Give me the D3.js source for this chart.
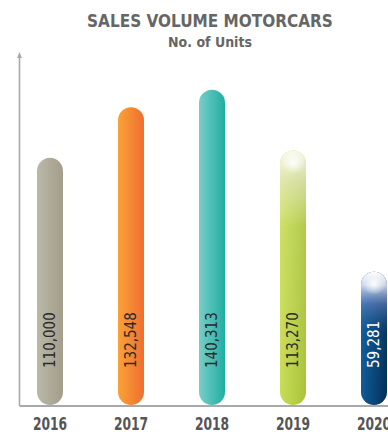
<!DOCTYPE html>
<html>
<head>
<meta charset="utf-8">
<script src="https://cdn.jsdelivr.net/npm/d3@7"></script>
<style>
  html, body { margin: 0; padding: 0; background: #fff; }
  svg { display: block; }
  text { font-family: "Liberation Sans Narrow", "DejaVu Sans Condensed", "Roboto Condensed", sans-serif; }
</style>
</head>
<body>
<svg id="chart" width="388" height="434"></svg>
<script>
// Sales volume of motorcars, number of units per year
const years = ["2016", "2017", "2018", "2019", "2020"];
const units = [110000, 132548, 140313, 113270, 59281];
const labels = ["110,000", "132,548", "140,313", "113,270", "59,281"];

// Bar colour ramps (left edge, right edge) and label colours
const leftColors  = ["#bcb8a8", "#f9a236", "#78cec7", "#c9dd55", "#0f5c9a"];
const rightColors = ["#a39e8a", "#f06e30", "#1faea3", "#a9c23a", "#022e55"];
const labelColors = ["#2b2b2b", "#2b2b2b", "#2b2b2b", "#2b2b2b", "#ffffff"];
const glow = [false, false, false, true, true];

const svg = d3.select("#chart");
const W = 388, baseY = 405, axisX = 19.5;

const x = d3.scalePoint().domain(years).range([50, 374]);
const y = d3.scaleLinear().domain([0, 150000]).range([baseY, 68]);
const barW = 26;

const defs = svg.append("defs");
years.forEach((yr, i) => {
  const g = defs.append("linearGradient").attr("id", "g" + i)
    .attr("x1", "0").attr("x2", "1").attr("y1", "0").attr("y2", "0");
  g.append("stop").attr("offset", "0%").attr("stop-color", leftColors[i]);
  g.append("stop").attr("offset", "100%").attr("stop-color", rightColors[i]);
  // vertical shading for the glossy bars
  const v = defs.append("linearGradient").attr("id", "v" + i)
    .attr("x1", "0").attr("x2", "0").attr("y1", "0").attr("y2", "1");
  if (i === 3) {
    v.append("stop").attr("offset", "0%").attr("stop-color", "#ffffff").attr("stop-opacity", 0.9);
    v.append("stop").attr("offset", "12%").attr("stop-color", "#f4f0f0").attr("stop-opacity", 0.55);
    v.append("stop").attr("offset", "30%").attr("stop-color", "#ffffff").attr("stop-opacity", 0.1);
    v.append("stop").attr("offset", "100%").attr("stop-color", "#ffffff").attr("stop-opacity", 0);
  } else if (i === 4) {
    v.append("stop").attr("offset", "0%").attr("stop-color", "#ffffff").attr("stop-opacity", 1);
    v.append("stop").attr("offset", "10%").attr("stop-color", "#e8ecfa").attr("stop-opacity", 0.85);
    v.append("stop").attr("offset", "24%").attr("stop-color", "#7a90d0").attr("stop-opacity", 0.55);
    v.append("stop").attr("offset", "45%").attr("stop-color", "#2a6aa8").attr("stop-opacity", 0.15);
    v.append("stop").attr("offset", "100%").attr("stop-color", "#2a6aa8").attr("stop-opacity", 0);
  }
  const r = defs.append("radialGradient").attr("id", "r" + i)
    .attr("cx", "50%").attr("cy", "50%").attr("r", "50%");
  r.append("stop").attr("offset", "0%").attr("stop-color", "#ffffff").attr("stop-opacity", 0.95);
  r.append("stop").attr("offset", "100%").attr("stop-color", "#ffffff").attr("stop-opacity", 0);
});

// Title
svg.append("text").attr("x", 210).attr("y", 27).attr("text-anchor", "middle")
  .attr("font-size", 17).attr("font-weight", "bold").attr("fill", "#666666")
  .text("SALES VOLUME MOTORCARS");
svg.append("text").attr("x", 210).attr("y", 47).attr("text-anchor", "middle")
  .attr("font-size", 14).attr("font-weight", "bold").attr("fill", "#666666")
  .text("No. of Units");

// Axes: vertical arrow and baseline
svg.append("line").attr("x1", axisX).attr("x2", axisX).attr("y1", 55).attr("y2", baseY + 1)
  .attr("stroke", "#a9a9ad").attr("stroke-width", 1.6);
svg.append("path").attr("d", `M${axisX - 2.5},58 L${axisX},52 L${axisX + 2.5},58 Z`).attr("fill", "#a9a9ad");
svg.append("line").attr("x1", axisX).attr("x2", W).attr("y1", baseY + 1).attr("y2", baseY + 1)
  .attr("stroke", "#a9a9ad").attr("stroke-width", 2);

// Bars
const bars = svg.selectAll("g.bar").data(years).join("g").attr("class", "bar");
bars.append("rect")
  .attr("x", (d) => x(d) - barW / 2)
  .attr("y", (d, i) => y(units[i]))
  .attr("width", barW)
  .attr("height", (d, i) => baseY - y(units[i]))
  .attr("rx", barW / 2).attr("ry", barW / 2)
  .attr("fill", (d, i) => `url(#g${i})`);
bars.filter((d, i) => glow[i]).append("rect")
  .attr("x", (d) => x(d) - barW / 2)
  .attr("y", (d) => y(units[years.indexOf(d)]))
  .attr("width", barW)
  .attr("height", (d) => baseY - y(units[years.indexOf(d)]))
  .attr("rx", barW / 2).attr("ry", barW / 2)
  .attr("fill", (d) => `url(#v${years.indexOf(d)})`);
bars.filter((d, i) => glow[i]).append("ellipse")
  .attr("cx", (d) => x(d))
  .attr("cy", (d) => y(units[years.indexOf(d)]) + 12)
  .attr("rx", 12).attr("ry", 11)
  .attr("fill", (d) => `url(#r${years.indexOf(d)})`);

// Value labels, rotated inside bars
bars.append("text")
  .attr("transform", (d) => `translate(${x(d)},368) rotate(-90)`)
  .attr("dy", "0.36em")
  .attr("font-size", 15)
  .attr("fill", (d, i) => labelColors[i])
  .text((d, i) => labels[i]);

// Year labels, horizontally condensed
svg.selectAll("text.year").data(years).join("text").attr("class", "year")
  .attr("transform", (d) => `translate(${x(d)},430) scale(0.76,1)`)
  .attr("text-anchor", "middle")
  .attr("font-size", 18).attr("font-weight", "bold").attr("fill", "#555555")
  .text((d) => d);
</script>
</body>
</html>
